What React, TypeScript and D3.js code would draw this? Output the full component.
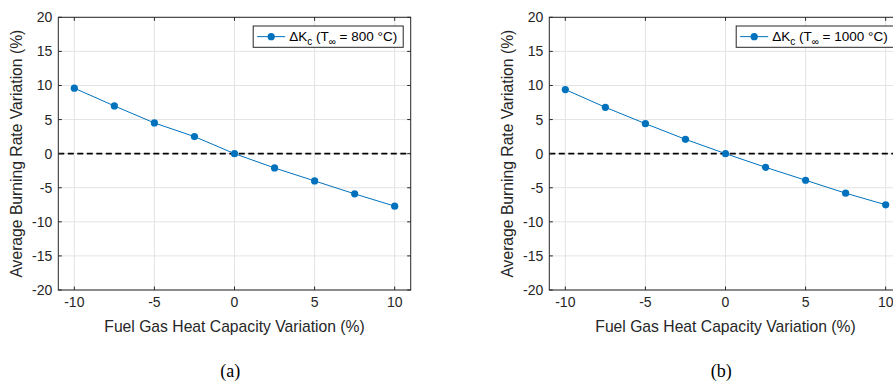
import React from "react";
import * as d3 from "d3";

// Heat capacity perturbation (%) applied to the fuel gas
const capacityVariation = [-10, -7.5, -5, -2.5, 0, 2.5, 5, 7.5, 10];
// Resulting average burning rate variation (%) for each ambient temperature
const burningRate800 = [9.6, 7.0, 4.5, 2.5, 0, -2.1, -4.0, -5.9, -7.7];
const burningRate1000 = [9.4, 6.8, 4.4, 2.1, 0, -2.0, -3.9, -5.8, -7.5];

const xTicks = [-10, -5, 0, 5, 10];
const yTicks = [-20, -15, -10, -5, 0, 5, 10, 15, 20];
const temperatures = ["800", "1000"];
const captions = ["(a)", "(b)"];

const W = 893;
const H = 383;
const SANS = "'Liberation Sans', Arial, Helvetica, sans-serif";
const SERIF = "'Liberation Serif', 'DejaVu Serif', serif";
const AXIS = "#262626";
const LINE = "#0072BD";

type PanelProps = {
  left: number;
  values: number[];
  temp: string;
  caption: string;
  id: string;
};

function Panel({ left, values, temp, caption, id }: PanelProps) {
  const top = 17.3;
  const bottom = 290;
  const right = left + 352.4;
  const x = d3.scaleLinear().domain([-11, 11]).range([left, right]);
  const y = d3.scaleLinear().domain([-20, 20]).range([bottom, top]);
  const line = d3
    .line<number>()
    .x((_, i) => x(capacityVariation[i]))
    .y((d) => y(d));
  const tick = 3.5;
  const midX = (left + right) / 2;

  // legend box anchored to the upper-right corner of the axes
  const legR = right - 7.5;
  const legW = temp.length > 3 ? 158 : 150;
  const legL = legR - legW;
  const legT = 26;
  const legB = 47.3;
  const legMid = (legT + legB) / 2;

  return (
    <g>
      <defs>
        <clipPath id={id}>
          <rect x={left} y={top} width={right - left} height={bottom - top} />
        </clipPath>
      </defs>
      <rect x={left} y={top} width={right - left} height={bottom - top} fill="#fff" />
      {/* grid */}
      <g stroke="#e3e3e3" strokeWidth={1}>
        {xTicks.map((t) => (
          <line key={"gx" + t} x1={x(t)} x2={x(t)} y1={top} y2={bottom} />
        ))}
        {yTicks.map((t) => (
          <line key={"gy" + t} x1={left} x2={right} y1={y(t)} y2={y(t)} />
        ))}
      </g>
      {/* zero reference */}
      <line
        x1={left}
        x2={right}
        y1={y(0)}
        y2={y(0)}
        stroke="#000"
        strokeWidth={1.8}
        strokeDasharray="6,3.5"
        clipPath={`url(#${id})`}
      />
      {/* data series */}
      <path d={line(values) || ""} fill="none" stroke={LINE} strokeWidth={1} />
      {values.map((v, i) => (
        <circle key={i} cx={x(capacityVariation[i])} cy={y(v)} r={3.6} fill={LINE} />
      ))}
      {/* box and ticks */}
      <rect
        x={left}
        y={top}
        width={right - left}
        height={bottom - top}
        fill="none"
        stroke={AXIS}
        strokeWidth={1}
      />
      <g stroke={AXIS} strokeWidth={1}>
        {xTicks.map((t) => (
          <g key={"tx" + t}>
            <line x1={x(t)} x2={x(t)} y1={bottom} y2={bottom - tick} />
            <line x1={x(t)} x2={x(t)} y1={top} y2={top + tick} />
          </g>
        ))}
        {yTicks.map((t) => (
          <g key={"ty" + t}>
            <line x1={left} x2={left + tick} y1={y(t)} y2={y(t)} />
            <line x1={right} x2={right - tick} y1={y(t)} y2={y(t)} />
          </g>
        ))}
      </g>
      <g fontFamily={SANS} fontSize={14} fill={AXIS}>
        {xTicks.map((t) => (
          <text key={"lx" + t} x={x(t)} y={bottom + 17} textAnchor="middle">
            {t}
          </text>
        ))}
        {yTicks.map((t) => (
          <text key={"ly" + t} x={left - 6} y={y(t) + 5} textAnchor="end">
            {t}
          </text>
        ))}
      </g>
      <text
        x={midX}
        y={332}
        textAnchor="middle"
        fontFamily={SANS}
        fontSize={15.7}
        fill={AXIS}
      >
        Fuel Gas Heat Capacity Variation (%)
      </text>
      <text
        transform={`translate(${left - 36},${(top + bottom) / 2}) rotate(-90)`}
        textAnchor="middle"
        fontFamily={SANS}
        fontSize={15.7}
        fill={AXIS}
      >
        Average Burning Rate Variation (%)
      </text>
      {/* legend */}
      <rect
        x={legL}
        y={legT}
        width={legW}
        height={legB - legT}
        fill="#fff"
        stroke={AXIS}
        strokeWidth={1}
      />
      <line x1={legL + 4} x2={legL + 32} y1={legMid} y2={legMid} stroke={LINE} strokeWidth={1} />
      <circle cx={legL + 18} cy={legMid} r={3.6} fill={LINE} />
      <text x={legL + 36} y={legMid + 4.5} fontFamily={SANS} fontSize={13.5} fill="#000">
        ΔK
        <tspan fontSize={10} dy={4}>
          c
        </tspan>
        <tspan dy={-4}> (T</tspan>
        <tspan fontSize={10} dy={4}>
          ∞
        </tspan>
        <tspan dy={-4}>{` = ${temp} °C)`}</tspan>
      </text>
      <text x={left + 172} y={377} textAnchor="middle" fontFamily={SERIF} fontSize={18} fill="#000">
        {caption}
      </text>
    </g>
  );
}

export default function App() {
  return (
    <svg width={W} height={H} style={{ position: "absolute", left: 0, top: 0, background: "#fff" }}>
      <rect width={W} height={H} fill="#fff" />
      <Panel left={58.3} values={burningRate800} temp={temperatures[0]} caption={captions[0]} id="clipA" />
      <Panel left={549.3} values={burningRate1000} temp={temperatures[1]} caption={captions[1]} id="clipB" />
    </svg>
  );
}
